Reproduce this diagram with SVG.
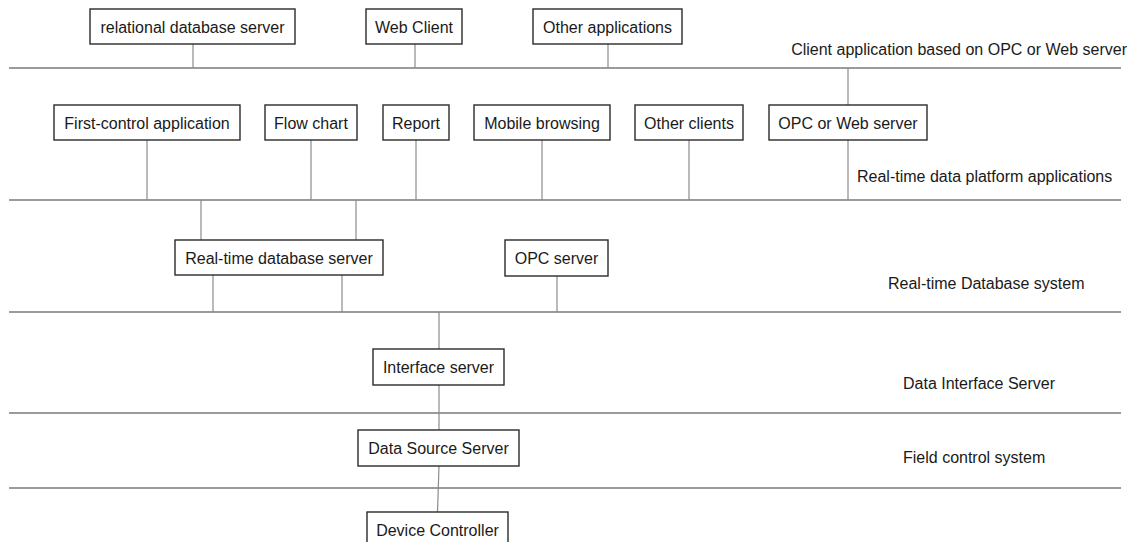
<svg xmlns="http://www.w3.org/2000/svg" width="1132" height="542" viewBox="0 0 1132 542">
<style>
.box rect{fill:#fff;stroke:#2a2a2a;stroke-width:1.4}
text{font-family:"Liberation Sans",Arial,sans-serif;font-size:16px;fill:#1a1a1a}
.box text{text-anchor:middle}
.layer{stroke:#7a7a7a;stroke-width:1.6;fill:none}
.conn{stroke:#8c8c8c;stroke-width:1.2;fill:none}
</style>
<rect width="1132" height="542" fill="#fff"/>
<g id="layers">
<line class="layer" x1="9" y1="68" x2="1121" y2="68"/>
<line class="layer" x1="9" y1="200" x2="1121" y2="200"/>
<line class="layer" x1="9" y1="312" x2="1121" y2="312"/>
<line class="layer" x1="9" y1="413" x2="1121" y2="413"/>
<line class="layer" x1="9" y1="488" x2="1121" y2="488"/>
</g>
<g id="layer-labels">
<text x="1127" y="55" text-anchor="end">Client application based on OPC or Web server</text>
<text x="857" y="182">Real-time data platform applications</text>
<text x="888" y="289">Real-time Database system</text>
<text x="903" y="389">Data Interface Server</text>
<text x="903" y="463">Field control system</text>
</g>
<g id="connectors">
<line class="conn" x1="193" y1="44" x2="193" y2="68"/>
<line class="conn" x1="415" y1="44" x2="415" y2="68"/>
<line class="conn" x1="608" y1="44" x2="608" y2="68"/>
<line class="conn" x1="848" y1="68" x2="848" y2="105"/>
<line class="conn" x1="147" y1="140" x2="147" y2="200"/>
<line class="conn" x1="311" y1="140" x2="311" y2="200"/>
<line class="conn" x1="416" y1="140" x2="416" y2="200"/>
<line class="conn" x1="542" y1="140" x2="542" y2="200"/>
<line class="conn" x1="689" y1="140" x2="689" y2="200"/>
<line class="conn" x1="848" y1="140" x2="848" y2="200"/>
<line class="conn" x1="201" y1="200" x2="201" y2="240"/>
<line class="conn" x1="356" y1="200" x2="356" y2="240"/>
<line class="conn" x1="213" y1="275" x2="213" y2="312"/>
<line class="conn" x1="342" y1="275" x2="342" y2="312"/>
<line class="conn" x1="557" y1="276" x2="557" y2="312"/>
<line class="conn" x1="439" y1="312" x2="439" y2="349"/>
<line class="conn" x1="439" y1="385" x2="439" y2="430"/>
<line class="conn" x1="439" y1="466" x2="437.5" y2="512"/>
</g>
<g id="relational-database-server" class="box"><rect x="90" y="9" width="205" height="35"/><text x="192.5" y="33">relational database server</text></g>
<g id="web-client" class="box"><rect x="366" y="9" width="96" height="35"/><text x="414" y="33">Web Client</text></g>
<g id="other-applications" class="box"><rect x="533" y="9" width="149" height="35"/><text x="607.5" y="33">Other applications</text></g>
<g id="first-control-application" class="box"><rect x="54" y="105" width="186" height="35"/><text x="147" y="129">First-control application</text></g>
<g id="flow-chart" class="box"><rect x="265" y="105" width="92" height="35"/><text x="311" y="129">Flow chart</text></g>
<g id="report" class="box"><rect x="383" y="105" width="66" height="35"/><text x="416" y="129">Report</text></g>
<g id="mobile-browsing" class="box"><rect x="474" y="105" width="136" height="35"/><text x="542" y="129">Mobile browsing</text></g>
<g id="other-clients" class="box"><rect x="635" y="105" width="108" height="35"/><text x="689" y="129">Other clients</text></g>
<g id="opc-or-web-server" class="box"><rect x="769" y="105" width="158" height="35"/><text x="848" y="129">OPC or Web server</text></g>
<g id="real-time-database-server" class="box"><rect x="175" y="240" width="208" height="35"/><text x="279" y="264">Real-time database server</text></g>
<g id="opc-server" class="box"><rect x="505" y="240" width="103" height="36"/><text x="556.5" y="264">OPC server</text></g>
<g id="interface-server" class="box"><rect x="373" y="349" width="131" height="36"/><text x="438.5" y="373">Interface server</text></g>
<g id="data-source-server" class="box"><rect x="358" y="430" width="161" height="36"/><text x="438.5" y="454">Data Source Server</text></g>
<g id="device-controller" class="box"><rect x="367" y="512" width="141" height="35"/><text x="437.5" y="536">Device Controller</text></g>
</svg>
